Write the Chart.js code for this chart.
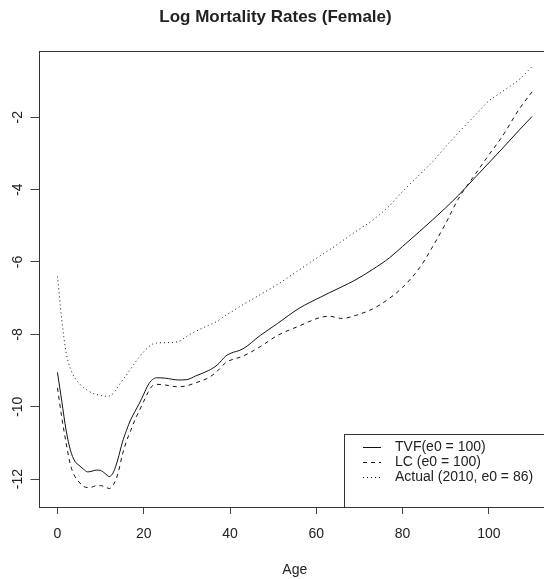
<!DOCTYPE html>
<html>
<head>
<meta charset="utf-8">
<title>Log Mortality Rates (Female)</title>
<script src="https://cdn.jsdelivr.net/npm/chart.js@4/dist/chart.umd.min.js"></script>
<style>
html, body { margin: 0; padding: 0; background: #fff; overflow: hidden; }
#wrap { width: 544px; height: 579px; overflow: hidden; }
canvas { display: block; }
</style>
</head>
<body>
<div id="wrap"><canvas id="mortality" width="560" height="579"></canvas></div>
<script>
// Ages and log mortality rates per series
var ages = [0, 1, 2, 3, 4, 5, 6, 7, 8, 9, 10, 11, 12, 13, 14, 15, 16, 17, 18, 19, 20,
            21, 22, 23, 25, 28, 30, 32, 35, 37, 39, 40, 43, 47, 51, 56, 61, 63, 66, 69,
            73, 77, 80, 84, 87, 90, 93, 97, 100, 103, 107, 110];

var tvf = [-9.05, -9.85, -10.65, -11.2, -11.5, -11.62, -11.72, -11.8, -11.78, -11.75, -11.76,
           -11.84, -11.93, -11.8, -11.45, -11.0, -10.65, -10.35, -10.12, -9.9, -9.65,
           -9.4, -9.25, -9.2, -9.21, -9.26, -9.25, -9.15, -9.0, -8.85, -8.6, -8.53, -8.4,
           -8.03, -7.7, -7.28, -6.97, -6.85, -6.68, -6.5, -6.21, -5.88, -5.57, -5.15, -4.83,
           -4.5, -4.15, -3.64, -3.26, -2.88, -2.36, -1.98];

var lc = [-9.48, -10.3, -11.0, -11.6, -11.92, -12.08, -12.2, -12.23, -12.22, -12.18, -12.18,
          -12.21, -12.26, -12.15, -11.85, -11.35, -10.95, -10.65, -10.35, -10.1, -9.85,
          -9.6, -9.42, -9.38, -9.4, -9.45, -9.42, -9.34, -9.2, -9.02, -8.78, -8.72, -8.6,
          -8.34, -8.03, -7.77, -7.53, -7.5, -7.56, -7.48, -7.3, -7.0, -6.7, -6.15, -5.57,
          -4.93, -4.24, -3.55, -3.04, -2.55, -1.78, -1.3];

var actual = [-6.4, -7.6, -8.5, -8.95, -9.2, -9.35, -9.47, -9.55, -9.62, -9.66, -9.69,
              -9.71, -9.7, -9.62, -9.45, -9.28, -9.12, -8.95, -8.78, -8.62, -8.48,
              -8.36, -8.27, -8.24, -8.23, -8.2, -8.05, -7.92, -7.75, -7.64, -7.47, -7.4, -7.18,
              -6.9, -6.62, -6.22, -5.82, -5.67, -5.42, -5.17, -4.85, -4.44, -4.05, -3.58, -3.22,
              -2.81, -2.42, -1.92, -1.55, -1.3, -0.96, -0.6];

var seriesLabels = ["TVF(e0 = 100)", "LC (e0 = 100)", "Actual (2010, e0 = 86)"];
var xTicks = [0, 20, 40, 60, 80, 100];
var yTicks = [-12, -10, -8, -6, -4, -2];

var FONT = "'Liberation Sans', Arial, Helvetica, sans-serif";
Chart.defaults.font.family = FONT;
Chart.defaults.color = "#222";

function toPoints(values)
{
    return ages.map(function (a, i) { return {x: a, y: values[i]}; });
}

function fixedTicks(list)
{
    return function (axis)
    {
        axis.ticks = list.map(function (v) { return {value: v}; });
    };
}

// Plot frame, rotated y labels and the bottom-right legend box
var plotDecor = {
    id: "plotDecor",
    afterDraw: function (chart)
    {
        var ctx = chart.ctx;
        var a   = chart.chartArea;
        var y   = chart.scales.y;
        var left = Math.round(a.left) + 0.5, top = Math.round(a.top) + 0.5;
        var right = Math.round(a.right) + 0.5, bottom = Math.round(a.bottom) + 0.5;

        ctx.save();
        ctx.strokeStyle = "#333";
        ctx.lineWidth   = 1;
        ctx.setLineDash([]);
        ctx.strokeRect(left, top, right - left, bottom - top);

        ctx.fillStyle    = "#222";
        ctx.font         = "14px " + FONT;
        ctx.textAlign    = "center";
        ctx.textBaseline = "middle";
        yTicks.forEach(function (v)
        {
            ctx.save();
            ctx.translate(18, y.getPixelForValue(v));
            ctx.rotate(-Math.PI / 2);
            ctx.fillText(String(v), 0, 0);
            ctx.restore();
        });

        // legend
        var boxLeft = 344.5, boxTop = 434.5;
        ctx.fillStyle = "#fff";
        ctx.fillRect(boxLeft, boxTop, right - boxLeft, bottom - boxTop);
        ctx.strokeStyle = "#333";
        ctx.strokeRect(boxLeft, boxTop, right - boxLeft, bottom - boxTop);

        ctx.textAlign = "left";
        chart.data.datasets.forEach(function (ds, i)
        {
            var rowY = boxTop + 13 + i * 15;
            ctx.strokeStyle = ds.borderColor;
            ctx.setLineDash(ds.borderDash || []);
            ctx.beginPath();
            ctx.moveTo(363, rowY);
            ctx.lineTo(381, rowY);
            ctx.stroke();
            ctx.setLineDash([]);
            ctx.fillStyle = "#222";
            ctx.fillText(ds.label, 395, rowY);
        });
        ctx.restore();
    }
};

new Chart(document.getElementById("mortality"), {
    type:    "line",
    data:    {
        datasets: [
            {
                label:       seriesLabels[0],
                data:        toPoints(tvf),
                borderColor: "#111",
                borderWidth: 1
            },
            {
                label:       seriesLabels[1],
                data:        toPoints(lc),
                borderColor: "#111",
                borderWidth: 1,
                borderDash:  [4, 4]
            },
            {
                label:       seriesLabels[2],
                data:        toPoints(actual),
                borderColor: "#111",
                borderWidth: 1,
                borderDash:  [1, 3]
            }
        ]
    },
    options: {
        responsive:  false,
        animation:   false,
        layout:      {padding: {left: 0, right: 9, top: 0, bottom: 0}},
        elements:    {
            point: {radius: 0},
            line:  {cubicInterpolationMode: "monotone", fill: false}
        },
        plugins:     {
            legend:  {display: false},
            tooltip: {enabled: false},
            title:   {
                display: true,
                text:    "Log Mortality Rates (Female)",
                color:   "#222",
                font:    {size: 17, weight: "bold"},
                padding: {top: 7, bottom: 23.6}
            }
        },
        scales:      {
            x: {
                type:            "linear",
                min:             -4.4,
                max:             114.4,
                afterBuildTicks: fixedTicks(xTicks),
                afterFit:        function (s) { s.height = 72; },
                border:          {display: false},
                grid:            {drawOnChartArea: false, drawTicks: true, tickLength: 7, color: "#444"},
                ticks:           {font: {size: 14}, color: "#222", padding: 12, maxRotation: 0},
                title:           {display: true, text: "Age", font: {size: 14}, color: "#222", padding: {top: 0, bottom: 0}}
            },
            y: {
                type:            "linear",
                min:             -12.77,
                max:             -0.17,
                afterBuildTicks: fixedTicks(yTicks),
                afterFit:        function (s) { s.width = 38.5; },
                border:          {display: false},
                grid:            {drawOnChartArea: false, drawTicks: true, tickLength: 8, color: "#444"},
                ticks:           {display: false}
            }
        }
    },
    plugins: [plotDecor]
});
</script>
</body>
</html>
